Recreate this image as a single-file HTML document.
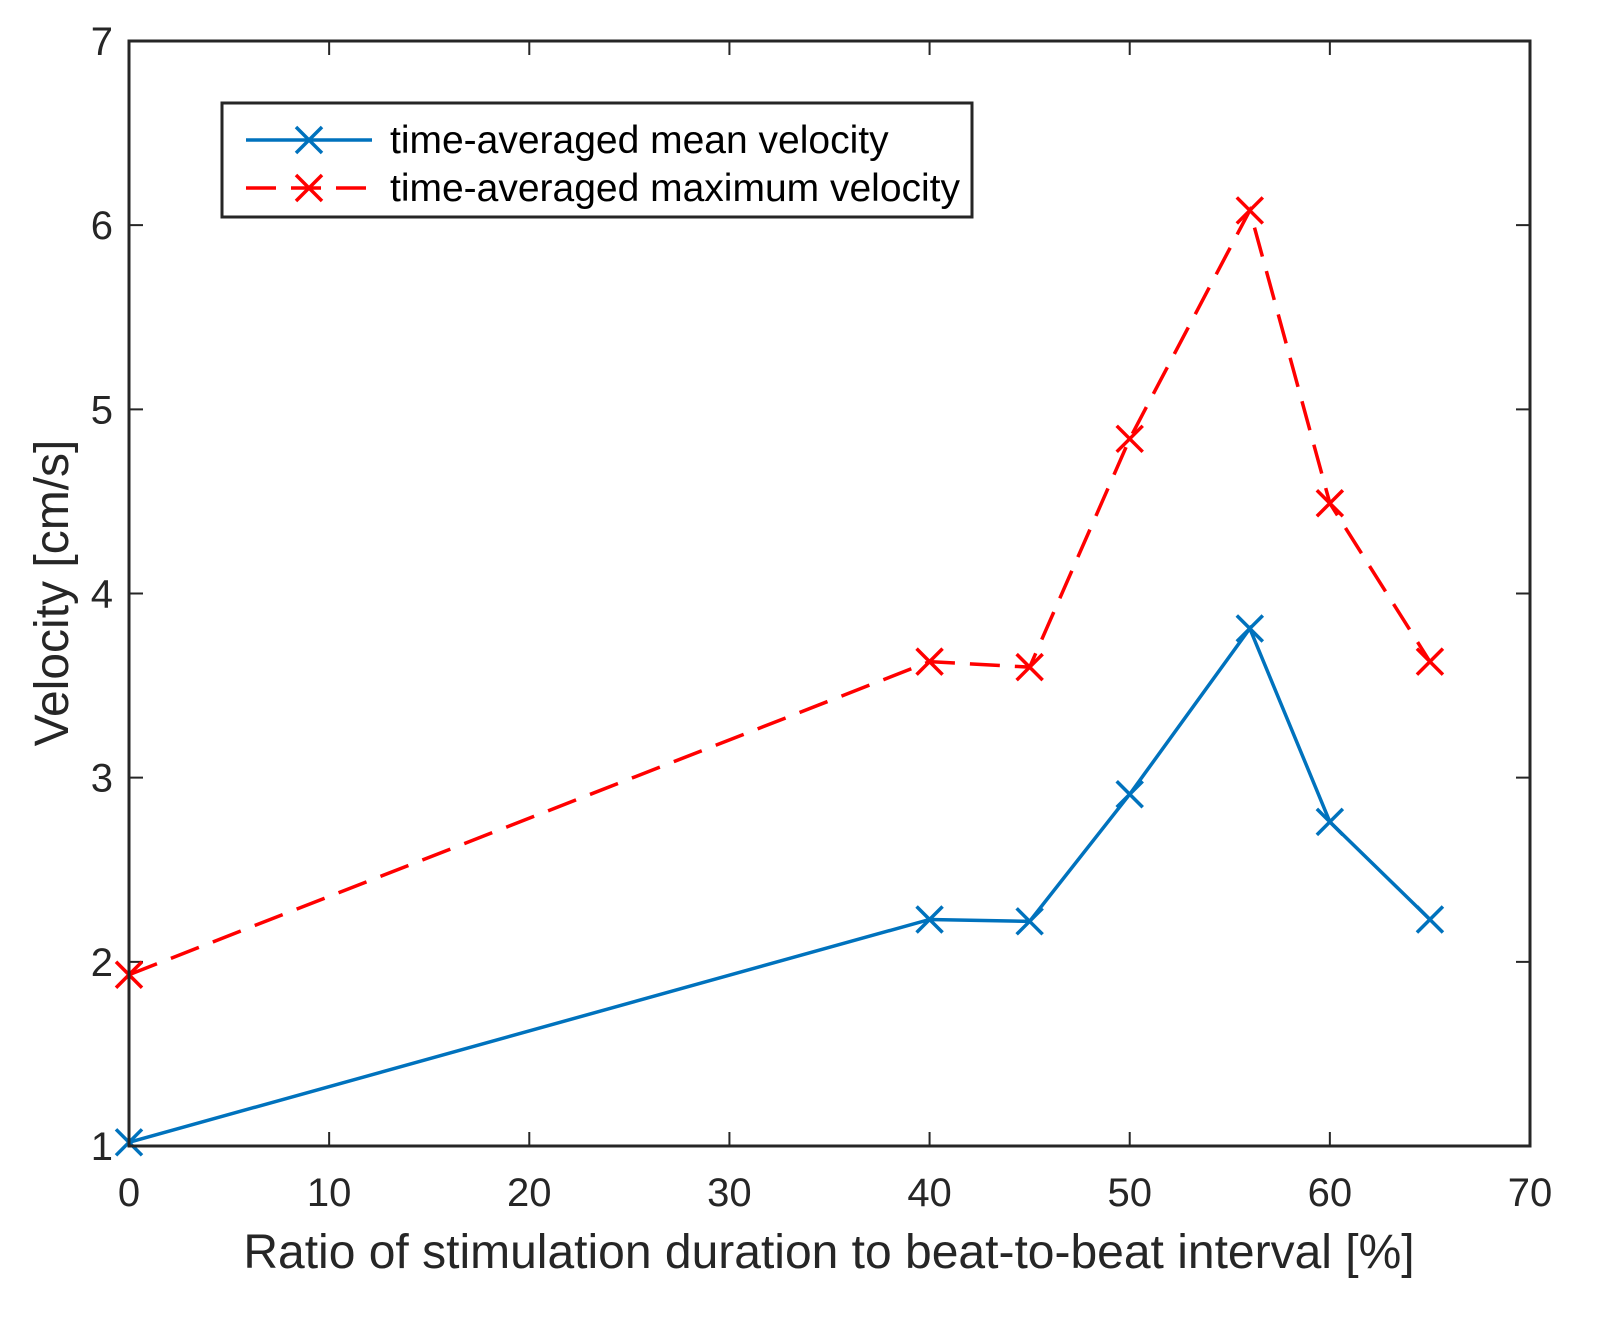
<!DOCTYPE html>
<html><head><meta charset="utf-8"><style>
body{margin:0;background:#fff;}
svg{display:block;font-family:"Liberation Sans",Arial,sans-serif;}
</style></head><body>
<svg id="chart" width="1598" height="1331" viewBox="0 0 1598 1331" xmlns="http://www.w3.org/2000/svg">
<rect width="1598" height="1331" fill="#fff"/>
<g id="ticks"></g>
<g id="series"></g>
<rect x="129" y="41" width="1401" height="1105" fill="none" stroke="#262626" stroke-width="3"/>
<text x="829" y="1268" font-size="48" text-anchor="middle" fill="#262626">Ratio of stimulation duration to beat-to-beat interval [%]</text>
<text transform="translate(68,593) rotate(-90)" font-size="48" text-anchor="middle" fill="#262626">Velocity [cm/s]</text>
<g>
<rect x="222" y="103" width="750" height="114" fill="#fff" stroke="#262626" stroke-width="3"/>
<line x1="246" y1="140" x2="372" y2="140" stroke="#0072BD" stroke-width="3.5"/>
<path d="M296 127 L322 153 M322 127 L296 153" stroke="#0072BD" stroke-width="3.5"/>
<text x="390" y="153" font-size="39" fill="#000">time-averaged mean velocity</text>
<line x1="246" y1="188" x2="372" y2="188" stroke="#FF0000" stroke-width="3.5" stroke-dasharray="30,15"/>
<path d="M296 175 L322 201 M322 175 L296 201" stroke="#FF0000" stroke-width="3.5"/>
<text x="390" y="201" font-size="39" fill="#000">time-averaged maximum velocity</text>
</g>
</svg>
<script>
const xValues = [0, 40, 45, 50, 56, 60, 65];
const meanVelocity = [1.02, 2.23, 2.22, 2.91, 3.81, 2.76, 2.23];
const maxVelocity = [1.93, 3.63, 3.60, 4.84, 6.08, 4.49, 3.63];
const xTicks = [0, 10, 20, 30, 40, 50, 60, 70];
const yTicks = [1, 2, 3, 4, 5, 6, 7];

const X0=129, X1=1530, Y0=1146, Y1=41;
function sx(v){return X0+(v-0)/(70-0)*(X1-X0);}
function sy(v){return Y0-(v-1)/(7-1)*(Y0-Y1);}
const NS="http://www.w3.org/2000/svg";
function mk(tag,attrs,parent){const e=document.createElementNS(NS,tag);for(const k in attrs)e.setAttribute(k,attrs[k]);parent.appendChild(e);return e;}
const tg=document.getElementById('ticks');
xTicks.forEach(t=>{
  const x=sx(t);
  const l1=mk('path',{d:`M${x} ${Y0} V${Y0-14} M${x} ${Y1} V${Y1+14}`,stroke:'#262626','stroke-width':2},tg);
  
  
  const tx=mk('text',{x:x,y:Y0+60,'font-size':40,'text-anchor':'middle',fill:'#262626'},tg);
  tx.textContent=t;
  
  
});
yTicks.forEach(t=>{
  const y=sy(t);
  const l1=mk('path',{d:`M${X0} ${y} H${X0+14} M${X1} ${y} H${X1-14}`,stroke:'#262626','stroke-width':2},tg);
  
  
  const tx=mk('text',{x:X0-16,y:y+14,'font-size':40,'text-anchor':'end',fill:'#262626'},tg);
  tx.textContent=t;
  
  
});
const sg=document.getElementById('series');
function drawSeries(vals,color,dash,name){
  const pts=xValues.map((x,i)=>sx(x)+','+sy(vals[i])).join(' ');
  const pl=mk('polyline',{points:pts,fill:'none',stroke:color,'stroke-width':3.5,'stroke-dasharray':dash},sg);
  
  
  xValues.forEach((x,i)=>{
    const cx=sx(x),cy=sy(vals[i]);
    const m=mk('path',{d:`M${cx-13} ${cy-13} L${cx+13} ${cy+13} M${cx+13} ${cy-13} L${cx-13} ${cy+13}`,stroke:color,'stroke-width':3.5},sg);
    
    
  });
}
drawSeries(meanVelocity,'#0072BD','none','mean-velocity');
drawSeries(maxVelocity,'#FF0000','30,15','max-velocity');
</script>
</body></html>
